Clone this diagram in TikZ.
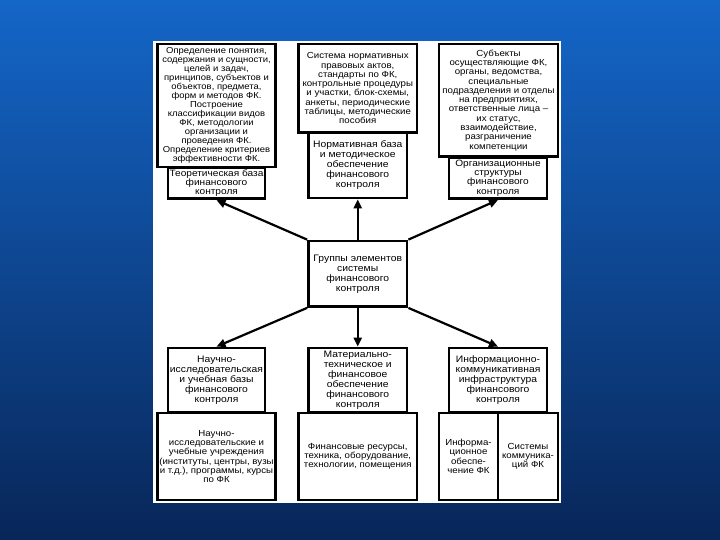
\documentclass[tikz,border=0pt]{standalone}
\usepackage{fontspec}
\setmainfont{Liberation Sans}
\newfontfamily\boxfont[FakeStretch=1.1]{Liberation Sans}
\usetikzlibrary{arrows.meta}
\definecolor{slidetop}{RGB}{20,102,200}
\definecolor{slidebot}{RGB}{8,38,88}

\begin{document}
\begin{tikzpicture}[x=1pt,y=-1pt]
\tikzstyle{every node}+=[inner sep=0pt]
\tikzstyle{descbox}=[draw=black, line width=2.8pt, fill=white, align=center, font=\boxfont\fontsize{8.8}{9.3}\selectfont]
\tikzstyle{grpbox}=[draw=black, line width=2.8pt, fill=white, align=center, font=\boxfont\fontsize{9.4}{10}\selectfont]
\tikzstyle{link}=[line width=2.2pt, -{Triangle[length=9pt,width=8pt]}]
\useasboundingbox (0,0) rectangle (720,540);
\shade[top color=slidetop, bottom color=slidebot] (0,0) rectangle (720,540);
\fill[white] (153,41) rectangle (561,503);
% upper row
\node[descbox, minimum width=118, minimum height=123, font=\boxfont\fontsize{8.6}{9.05}\selectfont] (th) at (216.5,105.5) {Определение понятия,\\содержания и сущности,\\целей и задач,\\принципов, субъектов и\\объектов, предмета,\\форм и методов ФК.\\Построение\\классификации видов\\ФК, методологии\\организации и\\проведения ФК.\\Определение критериев\\эффективности ФК.};
\node[grpbox, minimum width=97, minimum height=31, font=\boxfont\fontsize{9.2}{9.1}\selectfont] (tb) at (216.5,183.3) {Теоретическая база\\финансового\\контроля};
\node[descbox, minimum width=118.5, minimum height=88.6] (nm) at (357.75,88.3) {Система нормативных\\правовых актов,\\стандарты по ФК,\\контрольные процедуры\\и участки, блок-схемы,\\анкеты, периодические\\таблицы, методические\\пособия};
\node[grpbox, minimum width=98.5, minimum height=65.4] (nb) at (357.75,165.3) {Нормативная база\\и методическое\\обеспечение\\финансового\\контроля};
\node[descbox, minimum width=119, minimum height=112.7] (sb) at (498.5,100.35) {Субъекты\\осуществляющие ФК,\\органы, ведомства,\\специальные\\подразделения и отделы\\на предприятиях,\\ответственные лица –\\их статус,\\взаимодействие,\\разграничение\\компетенции};
\node[grpbox, minimum width=98, minimum height=41.3, font=\boxfont\fontsize{9.2}{9.4}\selectfont] (os) at (498,177.9) {Организационные\\структуры\\финансового\\контроля};
% centre
\node[grpbox, minimum width=98.5, minimum height=65.5] (grp) at (357.75,273.75) {Группы элементов\\системы\\финансового\\контроля};
% lower row
\node[grpbox, minimum width=97, minimum height=64.5] (nu) at (216.5,380.25) {Научно-\\исследовательская\\и учебная базы\\финансового\\контроля};
\node[descbox, minimum width=118, minimum height=87] (ni) at (216.5,456.5) {Научно-\\исследовательские и\\учебные учреждения\\(институты, центры, вузы\\и т.д.), программы, курсы\\по ФК};
\node[grpbox, minimum width=98.5, minimum height=64.5] (mt) at (357.75,380.25) {Материально-\\техническое и\\финансовое\\обеспечение\\финансового\\контроля};
\node[descbox, minimum width=118.5, minimum height=87] (fr) at (357.75,456.5) {Финансовые ресурсы,\\техника, оборудование,\\технологии, помещения};
\node[grpbox, minimum width=98, minimum height=64.5] (ik) at (498,380.25) {Информационно-\\коммуникативная\\инфраструктура\\финансового\\контроля};
\node[descbox, minimum width=59, minimum height=87] (io) at (468.5,456.5) {Информа-\\ционное\\обеспе-\\чение ФК};
\node[descbox, minimum width=60, minimum height=87] (sk) at (528,456.5) {Системы\\коммуника-\\ций ФК};
% arrows
\draw[link] (grp.north west) -- (tb.south);
\draw[link] (grp.north) -- (nb.south);
\draw[link] (grp.north east) -- (os.south);
\draw[link] (grp.south west) -- (nu.north);
\draw[link] (grp.south) -- (mt.north);
\draw[link] (grp.south east) -- (ik.north);
\end{tikzpicture}
\end{document}
